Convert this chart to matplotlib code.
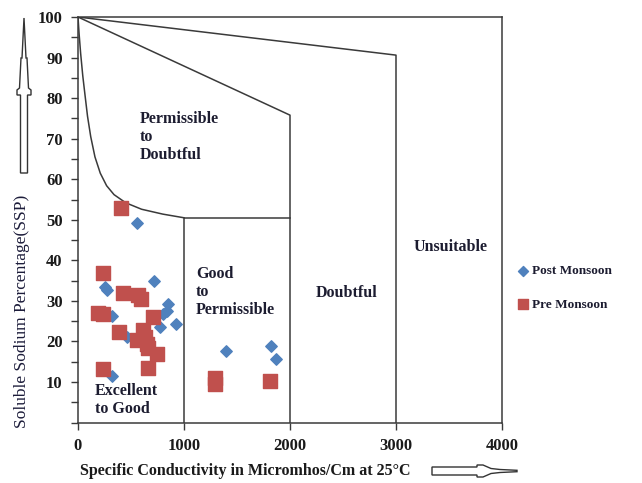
import matplotlib
matplotlib.use("Agg")
import matplotlib.pyplot as plt
from matplotlib.patches import Polygon
from matplotlib.ticker import MultipleLocator

plt.rcParams['font.family'] = ['Liberation Serif', 'DejaVu Serif']

# Post monsoon samples (EC in micromhos/cm, SSP %)
post_ec = [560, 250, 270, 720, 318, 852, 840, 806, 774, 925, 459, 318, 1393, 1818, 1865]
post_ssp = [49.2, 33.5, 32.8, 35.0, 26.4, 29.2, 27.5, 26.8, 23.6, 24.2, 21.2, 11.5, 17.7, 18.9, 15.7]

# Pre monsoon samples
pre_ec = [406, 239, 421, 569, 591, 186, 239, 711, 387, 616, 560, 648, 664, 748, 632,
          233, 664, 1292, 1292, 1811]
pre_ssp = [53.0, 36.8, 32.0, 31.5, 30.5, 27.1, 26.8, 26.1, 22.3, 22.8, 20.4, 19.5, 18.3, 16.9, 21.2,
           13.2, 13.5, 11.0, 9.4, 10.2]

# zone boundaries of the Wilcox-type classification
curve_x = [0, 10, 25, 45, 65, 90, 120, 160, 210, 270, 340, 450, 600, 800, 1000]
curve_y = [100, 96, 91, 85.5, 81, 75.5, 70.5, 65.5, 61.5, 58.4, 56.2, 54.2, 52.6, 51.4, 50.5]
line_2000 = ([0, 2000, 2000], [100, 75.8, 0])
line_3000 = ([0, 3000, 3000], [100, 90.6, 0])
box_1000 = ([1000, 1000, 2000], [0, 50.5, 50.5])

W, H = 642, 483
fig = plt.figure(figsize=(W / 100, H / 100), dpi=100)
ax = fig.add_axes([78 / W, 1 - 422.6 / H, 424 / W, 405.6 / H])

edge = '#3a3a3a'
ax.plot(curve_x, curve_y, color=edge, lw=1.1)
ax.plot(*line_2000, color=edge, lw=1.1)
ax.plot(*line_3000, color=edge, lw=1.1)
ax.plot(*box_1000, color=edge, lw=1.1)

ax.scatter(post_ec, post_ssp, marker='D', s=34, color='#4F81BD', label='Post Monsoon', zorder=3)
ax.scatter(pre_ec, pre_ssp, marker='s', s=90, color='#C0504D', label='Pre Monsoon', zorder=3)

ax.set_xlim(0, 4000)
ax.set_ylim(0, 100)
ax.xaxis.set_major_locator(MultipleLocator(1000))
ax.yaxis.set_major_locator(MultipleLocator(10))
ax.yaxis.set_minor_locator(MultipleLocator(5))
ax.set_yticks(range(10, 101, 10))
ax.tick_params(which='both', direction='out', length=5, width=1, color=edge)
ax.tick_params(labelsize=12, pad=6)
for lab in ax.get_xticklabels() + ax.get_yticklabels():
    lab.set_fontweight('bold')
    lab.set_color('#1a1a1a')
for sp in ax.spines.values():
    sp.set_color(edge)
    sp.set_linewidth(1.1)

txt = dict(fontsize=11.5, fontweight='bold', color='#1c1c30', linespacing=1.2, va='center')
ax.text(585, 70.4, 'Permissible\nto\nDoubtful', **txt)
ax.text(1113, 32.2, 'Good\nto\nPermissible', **txt)
ax.text(2245, 32.0, 'Doubtful', **txt)
ax.text(3170, 43.3, 'Unsuitable', **txt)
ax.text(160, 5.6, 'Excellent\nto Good', **txt)

fig.text(22 / W, 1 - 311 / H, 'Soluble Sodium Percentage(SSP)', rotation=90, fontsize=12.5,
         color='#1c1c3a', ha='center', va='center')
fig.text(80 / W, 1 - 471 / H, 'Specific Conductivity in Micromhos/Cm at 25\u00b0C', fontsize=11.5,
         fontweight='bold', color='#1a1a1a', ha='left', va='center')

leg = ax.legend(loc='center left', bbox_to_anchor=(498 / W, 1 - 288 / H), bbox_transform=fig.transFigure,
                frameon=False, prop={'weight': 'bold', 'size': 9.5}, handletextpad=-0.3,
                labelspacing=1.6, labelcolor='#1c1c30')
leg.legend_handles[0].set_sizes([26])
leg.legend_handles[1].set_sizes([60])


def px(points):
    return [(x / W, 1 - y / H) for x, y in points]


# hollow arrows beside the axis titles
up_arrow = [(24, 18), (26, 58), (27, 58), (28.5, 88), (31, 90), (31, 95), (27.5, 95), (27.5, 173),
            (20.5, 173), (20.5, 95), (17, 95), (17, 90), (19.5, 88), (21, 58), (22, 58)]
right_arrow = [(432, 467), (477, 467), (477, 465), (483, 465), (491, 468.5), (500, 469.5),
               (517, 470.3), (517, 471.7), (500, 472.5), (491, 473.5), (483, 477), (477, 477),
               (477, 475), (432, 475)]
for pts in (up_arrow, right_arrow):
    fig.patches.append(Polygon(px(pts), closed=True, facecolor='white', edgecolor='#333333',
                               lw=1.0, transform=fig.transFigure))

fig.savefig('out.png', dpi=100)
